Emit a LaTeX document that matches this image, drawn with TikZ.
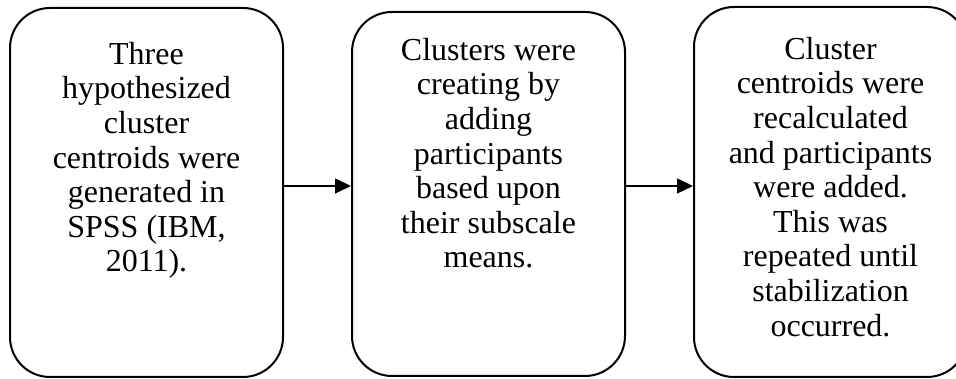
\documentclass[tikz,border=0pt]{standalone}
\usepackage{fontspec}
\setmainfont{Liberation Serif}
\usetikzlibrary{arrows.meta}

\begin{document}
\begin{tikzpicture}[x=1pt,y=1pt,
  stepbox/.style={draw,line width=2pt,rounded corners=40pt,
    minimum width=273pt,inner sep=0pt},
  steptext/.style={anchor=north,align=center,inner sep=0pt,
    font=\fontsize{32}{34.6}\selectfont},
  flow/.style={-{Triangle[length=16pt,width=15pt]},line width=1.4pt}]
  \useasboundingbox (0,0) rectangle (956,379);

  % Step 1
  \node[stepbox,minimum height=369pt] (b1) at (146.5,186.5) {};
  \node[steptext] (t1) at (146.5,337)
    {Three\\hypothesized\\cluster\\centroids were\\generated in\\SPSS (IBM,\\2011).};

  % Step 2
  \node[stepbox,minimum height=364pt] (b2) at (488.5,185) {};
  \node[steptext] (t2) at (488.5,341)
    {Clusters were\\creating by\\adding\\participants\\based upon\\their subscale\\means.};

  % Step 3
  \node[stepbox,minimum height=370pt] (b3) at (830.5,187) {};
  \node[steptext] (t3) at (830.5,342)
    {Cluster\\centroids were\\recalculated\\and participants\\were added.\\This was\\repeated until\\stabilization\\occurred.};

  % Arrows between steps
  \coordinate (row) at (0,193);
  \draw[flow] (b1.east |- row) -- (b2.west |- row);
  \draw[flow] (b2.east |- row) -- (b3.west |- row);
\end{tikzpicture}
\end{document}
